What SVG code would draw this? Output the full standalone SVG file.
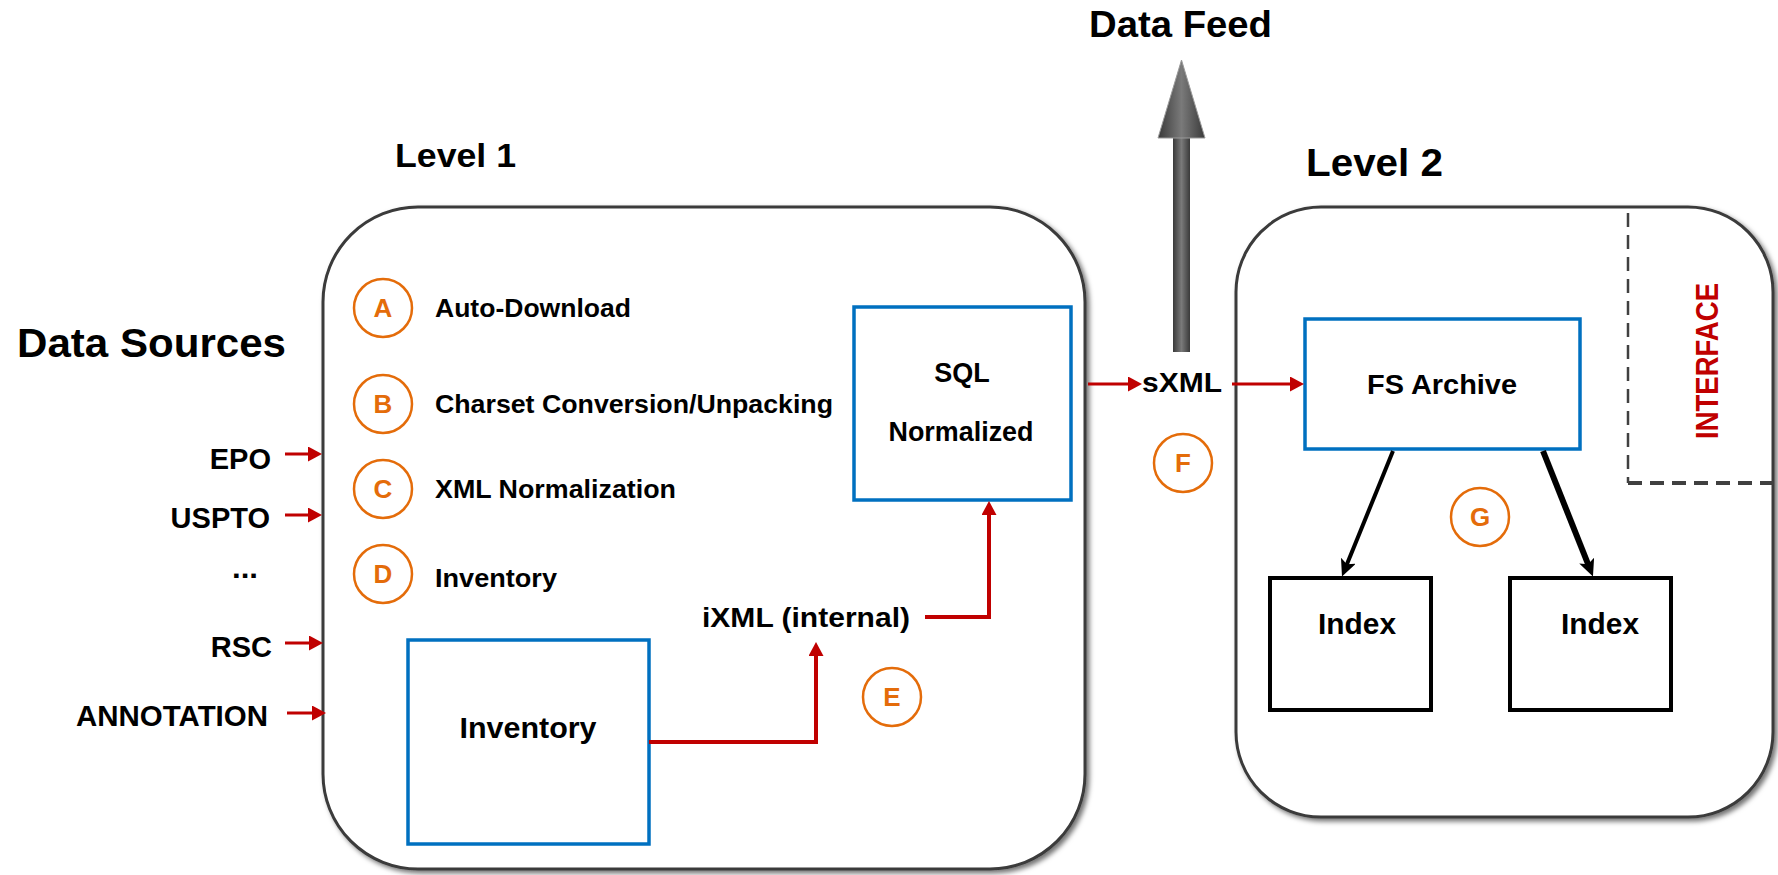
<svg xmlns="http://www.w3.org/2000/svg" width="1778" height="875" viewBox="0 0 1778 875">
  <defs>
    <style>
      text { font-family: "Liberation Sans", Arial, sans-serif; font-weight: bold; fill: #000; }
      .title { font-size: 36px; }
      .src { font-size: 29px; text-anchor: end; }
      .step { font-size: 26px; }
      .tag { font-size: 26px; fill: #E46C0A; text-anchor: middle; }
      .tagc { fill: #fff; stroke: #E46C0A; stroke-width: 2.5; }
      .lbl { font-size: 27px; }
      .mid { text-anchor: middle; }
      .level { fill: #fff; stroke: #3a3a3a; stroke-width: 3; filter: url(#shadow); }
      .blue { fill: #fff; stroke: #0070C0; stroke-width: 3.5; }
      .blk { fill: #fff; stroke: #000; stroke-width: 4; }
      .red { fill: none; stroke: #C00000; stroke-width: 3; marker-end: url(#redHead); }
      .redw { fill: none; stroke: #C00000; stroke-width: 4; marker-end: url(#redHead); }
      .dash { fill: none; stroke: #404040; stroke-dasharray: 14 8; }
    </style>
    <filter id="shadow" x="-5%" y="-5%" width="115%" height="115%">
      <feDropShadow dx="3" dy="3" stdDeviation="2.5" flood-color="#000" flood-opacity="0.55"/>
    </filter>
    <linearGradient id="feedGrad" x1="0" y1="0" x2="1" y2="0">
      <stop offset="0" stop-color="#3a3a3a"/>
      <stop offset="0.5" stop-color="#7a7a7a"/>
      <stop offset="1" stop-color="#3a3a3a"/>
    </linearGradient>
    <marker id="redHead" markerUnits="userSpaceOnUse" markerWidth="15" markerHeight="16" refX="10" refY="7.5" orient="auto">
      <path d="M0,0 L14,7.5 L0,15 z" fill="#C00000"/>
    </marker>
    <marker id="blackHead" markerUnits="userSpaceOnUse" markerWidth="18" markerHeight="18" refX="9" refY="8" orient="auto">
      <path d="M0,0 L17,8 L0,16 L4,8 z" fill="#000"/>
    </marker>
  </defs>

  <rect width="1778" height="875" fill="#fff"/>

  <!-- titles -->
  <text class="title" x="1089" y="37" textLength="183" lengthAdjust="spacingAndGlyphs">Data Feed</text>
  <text x="395" y="167" style="font-size:34px" textLength="121" lengthAdjust="spacingAndGlyphs">Level 1</text>
  <text x="1306" y="176" style="font-size:38px" textLength="137" lengthAdjust="spacingAndGlyphs">Level 2</text>
  <text x="17" y="357" style="font-size:41px" textLength="269" lengthAdjust="spacingAndGlyphs">Data Sources</text>

  <!-- data feed arrow -->
  <g id="feed-arrow">
    <rect x="1173" y="136" width="17" height="216" fill="url(#feedGrad)"/>
    <polygon points="1158,138 1181.5,60 1205,138" fill="url(#feedGrad)" stroke="#9a9a9a" stroke-width="1"/>
  </g>

  <!-- level containers -->
  <g id="level1">
    <rect class="level" x="323" y="207" width="762" height="662" rx="95" ry="95"/>
  </g>
  <g id="level2">
    <rect class="level" x="1236" y="207" width="537" height="610" rx="85" ry="85"/>
  </g>

  <!-- data sources -->
  <g id="sources">
    <text class="src" x="271" y="469">EPO</text>
    <text class="src" x="270" y="528">USPTO</text>
    <text x="232" y="578" style="font-size:29px" textLength="26" lengthAdjust="spacingAndGlyphs">...</text>
    <text class="src" x="272" y="657">RSC</text>
    <text class="src" x="268" y="726" textLength="192" lengthAdjust="spacingAndGlyphs">ANNOTATION</text>
  </g>

  <!-- processing steps -->
  <g id="step-a">
    <circle class="tagc" cx="383" cy="308" r="29"/>
    <text class="tag" x="383" y="317">A</text>
    <text class="step" x="435" y="317" textLength="196" lengthAdjust="spacingAndGlyphs">Auto-Download</text>
  </g>
  <g id="step-b">
    <circle class="tagc" cx="383" cy="404" r="29"/>
    <text class="tag" x="383" y="413">B</text>
    <text class="step" x="435" y="413" textLength="398" lengthAdjust="spacingAndGlyphs">Charset Conversion/Unpacking</text>
  </g>
  <g id="step-c">
    <circle class="tagc" cx="383" cy="489" r="29"/>
    <text class="tag" x="383" y="498">C</text>
    <text class="step" x="435" y="498" textLength="241" lengthAdjust="spacingAndGlyphs">XML Normalization</text>
  </g>
  <g id="step-d">
    <circle class="tagc" cx="383" cy="574" r="29"/>
    <text class="tag" x="383" y="583">D</text>
    <text class="step" x="435" y="587" textLength="122" lengthAdjust="spacingAndGlyphs">Inventory</text>
  </g>

  <!-- level 1 nodes -->
  <g id="sql">
    <rect class="blue" x="854" y="307" width="217" height="193"/>
    <text class="lbl mid" x="962" y="382">SQL</text>
    <text class="lbl mid" x="961" y="441" textLength="145" lengthAdjust="spacingAndGlyphs">Normalized</text>
  </g>
  <g id="inventory">
    <rect class="blue" x="408" y="640" width="241" height="204"/>
    <text class="mid" x="528" y="738" style="font-size:29px" textLength="137" lengthAdjust="spacingAndGlyphs">Inventory</text>
  </g>
  <g id="ixml">
    <text class="lbl" x="702" y="627" textLength="208" lengthAdjust="spacingAndGlyphs">iXML (internal)</text>
  </g>
  <g id="step-e">
    <circle class="tagc" cx="892" cy="697" r="29"/>
    <text class="tag" x="892" y="706">E</text>
  </g>

  <!-- between levels -->
  <g id="sxml">
    <text class="lbl" x="1142" y="392" textLength="80" lengthAdjust="spacingAndGlyphs">sXML</text>
  </g>
  <g id="step-f">
    <circle class="tagc" cx="1183" cy="463" r="29"/>
    <text class="tag" x="1183" y="472">F</text>
  </g>

  <!-- level 2 nodes -->
  <g id="fs-archive">
    <rect class="blue" x="1305" y="319" width="275" height="130"/>
    <text class="mid" x="1442" y="394" style="font-size:28px" textLength="150" lengthAdjust="spacingAndGlyphs">FS Archive</text>
  </g>
  <g id="index-1">
    <rect class="blk" x="1270" y="578" width="161" height="132"/>
    <text class="mid" x="1357" y="634" style="font-size:29px" textLength="78" lengthAdjust="spacingAndGlyphs">Index</text>
  </g>
  <g id="index-2">
    <rect class="blk" x="1510" y="578" width="161" height="132"/>
    <text class="mid" x="1600" y="634" style="font-size:29px" textLength="78" lengthAdjust="spacingAndGlyphs">Index</text>
  </g>
  <g id="step-g">
    <circle class="tagc" cx="1480" cy="517" r="29"/>
    <text class="tag" x="1480" y="526">G</text>
  </g>
  <g id="interface">
    <path class="dash" d="M1628,213 V483" stroke-width="2.5"/>
    <path class="dash" d="M1628,483 H1778" stroke-width="4"/>
    <text transform="translate(1718,361) rotate(-90)" class="mid" style="font-size:31px; fill:#C00000" textLength="156" lengthAdjust="spacingAndGlyphs">INTERFACE</text>
  </g>

  <!-- connectors -->
  <g id="connectors">
    <line class="red" x1="285" y1="454" x2="318" y2="454"/>
    <line class="red" x1="285" y1="515" x2="318" y2="515"/>
    <line class="red" x1="285" y1="643" x2="319" y2="643"/>
    <line class="red" x1="287" y1="713" x2="322" y2="713"/>
    <path class="redw" d="M649,742 H816 V646"/>
    <path class="redw" d="M925,617 H989 V505"/>
    <line class="red" x1="1088" y1="384" x2="1138" y2="384"/>
    <line class="red" x1="1232" y1="384" x2="1300" y2="384"/>
    <line x1="1393" y1="451" x2="1345" y2="569" stroke="#000" stroke-width="4" marker-end="url(#blackHead)"/>
    <line x1="1543" y1="451" x2="1590" y2="569" stroke="#000" stroke-width="6" marker-end="url(#blackHead)"/>
  </g>
</svg>
